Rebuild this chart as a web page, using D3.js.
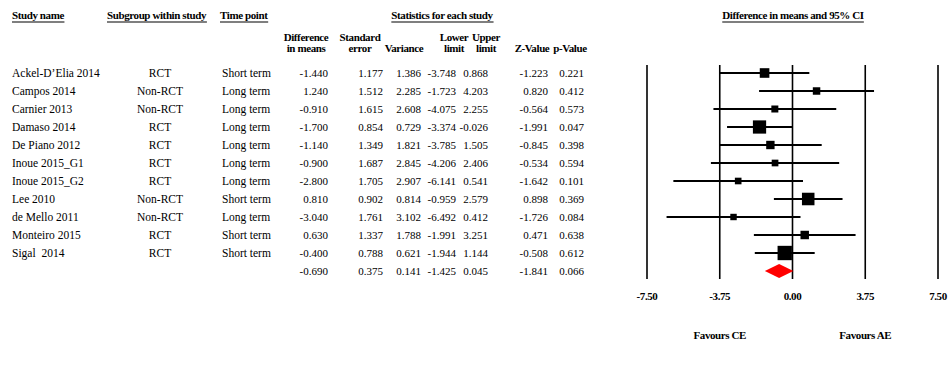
<!DOCTYPE html>
<html>
<head>
<meta charset="utf-8">
<script src="https://cdn.jsdelivr.net/npm/d3@7"></script>
<style>
  body { margin: 0; background: #fff; }
  text { font-family: "Liberation Serif", "Times New Roman", serif; fill: #000; white-space: pre; }
</style>
</head>
<body>
<div id="graph"></div>
<script>
// data
let studies = ["Ackel-D\u2019Elia 2014", "Campos 2014", "Carnier 2013", "Damaso 2014", "De Piano 2012",
    "Inoue 2015_G1", "Inoue 2015_G2", "Lee 2010", "de Mello 2011", "Monteiro 2015", "Sigal  2014"];
let subgroups = ["RCT", "Non-RCT", "Non-RCT", "RCT", "RCT", "RCT", "RCT", "Non-RCT", "Non-RCT", "RCT", "RCT"];
let timePoints = ["Short term", "Long term", "Long term", "Long term", "Long term", "Long term", "Long term",
    "Short term", "Long term", "Short term", "Short term"];
let diffMeans = [-1.440, 1.240, -0.910, -1.700, -1.140, -0.900, -2.800, 0.810, -3.040, 0.630, -0.400];
let stdErrors = [1.177, 1.512, 1.615, 0.854, 1.349, 1.687, 1.705, 0.902, 1.761, 1.337, 0.788];
let variances = [1.386, 2.285, 2.608, 0.729, 1.821, 2.845, 2.907, 0.814, 3.102, 1.788, 0.621];
let lowerLimits = [-3.748, -1.723, -4.075, -3.374, -3.785, -4.206, -6.141, -0.959, -6.492, -1.991, -1.944];
let upperLimits = [0.868, 4.203, 2.255, -0.026, 1.505, 2.406, 0.541, 2.579, 0.412, 3.251, 1.144];
let zValues = [-1.223, 0.820, -0.564, -1.991, -0.845, -0.534, -1.642, 0.898, -1.726, 0.471, -0.508];
let pValues = [0.221, 0.412, 0.573, 0.047, 0.398, 0.594, 0.101, 0.369, 0.084, 0.638, 0.612];

// pooled estimate
let summary = [-0.690, 0.375, 0.141, -1.425, 0.045, -1.841, 0.066];

let ticks = [-7.50, -3.75, 0.00, 3.75, 7.50];
let favourLabels = ["Favours CE", "Favours AE"];

let width = 951, height = 378;

let svg = d3.select("#graph")
    .append("svg")
    .attr("width", width)
    .attr("height", height);

let nRows = studies.length + 1;

let y = d3.scaleBand()
    .domain(d3.range(nRows))
    .range([64, 280]);

function rowY(i) { return y(i) + y.bandwidth() / 2; }

let x = d3.scaleLinear()
    .domain([-7.5, 7.5])
    .range([647, 938]);

// plain hyphen instead of the unicode minus
function fmt(spec) {
    let f = d3.format(spec);
    return function(v) { return f(v).replace("\u2212", "-"); };
}
let f3 = fmt(".3f"), f2 = fmt(".2f");

// headers
function header(label, px, py, anchor, underline) {
    let t = svg.append("text")
        .attr("x", px)
        .attr("y", py)
        .style("font-size", "11px")
        .style("font-weight", "bold")
        .style("letter-spacing", "-0.4px")
        .style("text-anchor", anchor)
        .text(label);
    if (underline) {
        let b = t.node().getBBox();
        svg.append("line")
            .attr("x1", b.x).attr("x2", b.x + b.width)
            .attr("y1", py + 3).attr("y2", py + 3)
            .attr("stroke", "#555")
            .attr("stroke-width", 1.5);
    }
}

header("Study name", 12, 19, "start", true);
header("Subgroup within study", 107, 19, "start", true);
header("Time point", 220, 19, "start", true);
header("Statistics for each study", 442, 19, "middle", true);
header("Difference in means and 95% CI", 793, 19, "middle", true);

let colRight = [328, 383, 421, 456, 488, 548, 584];
let colHead = [
    ["Difference", "in means"], ["Standard", "error"], ["", "Variance"], ["Lower", "limit"],
    ["Upper", "limit"], ["", "Z-Value"], ["", "p-Value"]
];
let colCenter = [306, 360, 404, 454, 486, 532, 570];
colHead.forEach(function(h, j) {
    header(h[0], colCenter[j], 41, "middle", false);
    header(h[1], colCenter[j], 52, "middle", false);
});

// table body
let rowsG = svg.append("g").style("font-size", "11.5px");
let cols = [diffMeans, stdErrors, variances, lowerLimits, upperLimits, zValues, pValues];

studies.forEach(function(s, i) {
    let yy = rowY(i) + 4;
    rowsG.append("text").attr("x", 12).attr("y", yy).text(s);
    rowsG.append("text").attr("x", 160).attr("y", yy).style("text-anchor", "middle").text(subgroups[i]);
    rowsG.append("text").attr("x", 222).attr("y", yy).text(timePoints[i]);
    cols.forEach(function(c, j) {
        rowsG.append("text")
            .attr("x", colRight[j])
            .attr("y", yy)
            .style("font-size", "11px")
            .style("text-anchor", "end")
            .text(f3(c[i]));
    });
});
summary.forEach(function(v, j) {
    rowsG.append("text")
        .attr("x", colRight[j])
        .attr("y", rowY(nRows - 1) + 4)
        .style("font-size", "11px")
        .style("text-anchor", "end")
        .text(f3(v));
});

// forest plot grid lines
svg.append("g").selectAll("line")
    .data(ticks)
    .enter()
    .append("line")
    .attr("x1", function(d) { return x(d); })
    .attr("x2", function(d) { return x(d); })
    .attr("y1", 65)
    .attr("y2", 279)
    .attr("stroke", "#000")
    .attr("stroke-width", 1.6);

svg.append("g").selectAll("text")
    .data(ticks)
    .enter()
    .append("text")
    .attr("x", function(d) { return x(d); })
    .attr("y", 300)
    .style("font-size", "11px")
    .style("font-weight", "bold")
    .style("letter-spacing", "-0.4px")
    .style("text-anchor", "middle")
    .text(function(d) { return f2(d); });

// CI lines
let ciData = studies.map(function(s, i) { return i; });
svg.append("g").selectAll("line")
    .data(ciData)
    .enter()
    .append("line")
    .attr("x1", function(i) { return x(lowerLimits[i]); })
    .attr("x2", function(i) { return x(upperLimits[i]); })
    .attr("y1", function(i) { return rowY(i); })
    .attr("y2", function(i) { return rowY(i); })
    .attr("stroke", "#000")
    .attr("stroke-width", 2);

// boxes sized by inverse standard error
let boxSize = function(i) { return 11.3 / stdErrors[i]; };
svg.append("g").selectAll("rect")
    .data(ciData)
    .enter()
    .append("rect")
    .attr("x", function(i) { return x(diffMeans[i]) - boxSize(i) / 2; })
    .attr("y", function(i) { return rowY(i) - boxSize(i) / 2; })
    .attr("width", boxSize)
    .attr("height", boxSize)
    .attr("fill", "#000");

// summary diamond
let sy = rowY(nRows - 1);
svg.append("path")
    .attr("d", "M" + x(summary[3]) + "," + sy +
        "L" + x(summary[0]) + "," + (sy - 7) +
        "L" + x(summary[4]) + "," + sy +
        "L" + x(summary[0]) + "," + (sy + 7) + "Z")
    .attr("fill", "#ff0000");

svg.selectAll(".fav")
    .data(favourLabels)
    .enter()
    .append("text")
    .attr("x", function(d, i) { return i === 0 ? x(-3.75) : x(3.75); })
    .attr("y", 339)
    .style("font-size", "11px")
    .style("font-weight", "bold")
    .style("letter-spacing", "-0.4px")
    .style("text-anchor", "middle")
    .text(function(d) { return d; });
</script>
</body>
</html>
